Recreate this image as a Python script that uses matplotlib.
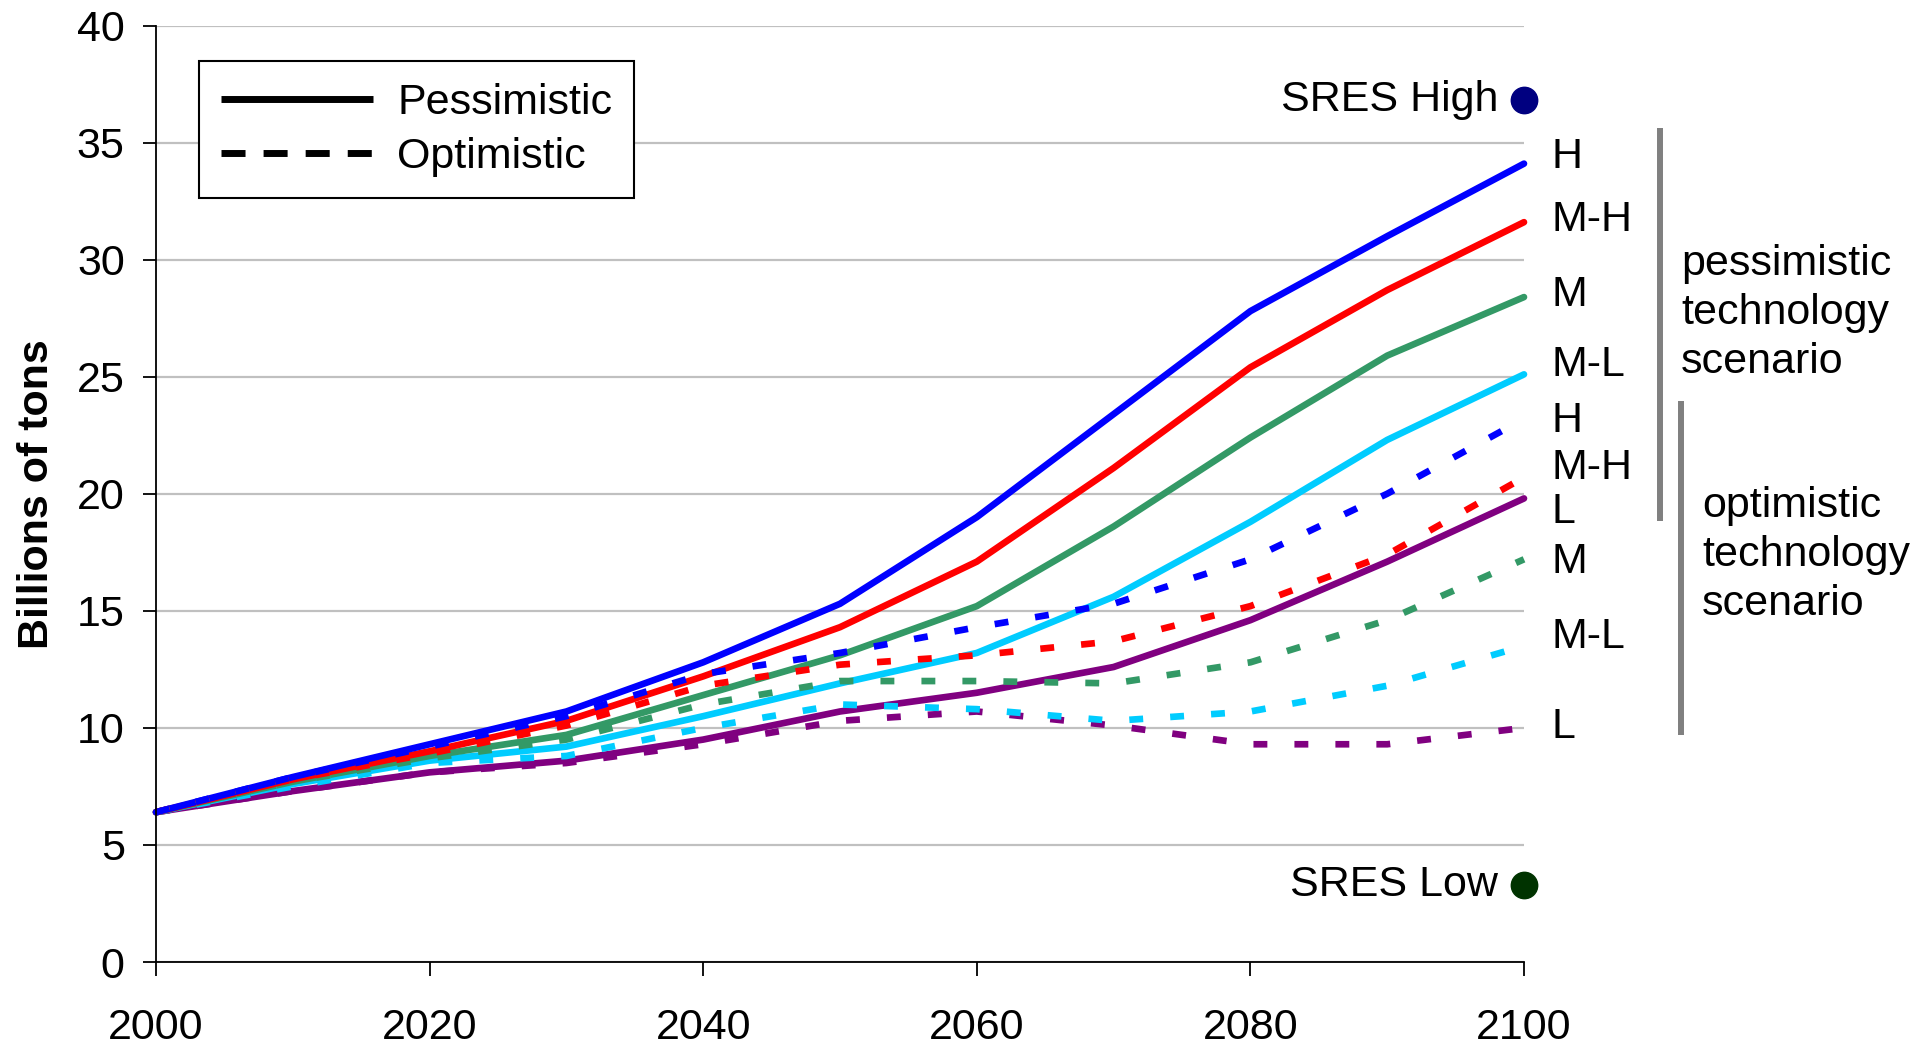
import matplotlib
matplotlib.use("Agg")
import matplotlib.pyplot as plt
from matplotlib.lines import Line2D
import matplotlib.transforms as mtransforms

plt.rcParams['font.family'] = ['Liberation Sans', 'DejaVu Sans']
plt.rcParams['lines.scale_dashes'] = False

years = [2000, 2010, 2020, 2030, 2040, 2050, 2060, 2070, 2080, 2090, 2100]

scenario_labels = ["H", "M-H", "M", "M-L", "L"]
colors = ["#0000FF", "#FF0000", "#339966", "#00CCFF", "#800080"]

pess_H  = [6.4, 7.9, 9.3, 10.7, 12.8, 15.3, 19.0, 23.4, 27.8, 31.0, 34.1]
pess_MH = [6.4, 7.8, 9.0, 10.3, 12.2, 14.3, 17.1, 21.1, 25.4, 28.7, 31.6]
pess_M  = [6.4, 7.7, 8.8, 9.7, 11.4, 13.1, 15.2, 18.6, 22.4, 25.9, 28.4]
pess_ML = [6.4, 7.6, 8.6, 9.2, 10.5, 11.9, 13.2, 15.6, 18.8, 22.3, 25.1]
pess_L  = [6.4, 7.3, 8.1, 8.6, 9.5, 10.7, 11.5, 12.6, 14.6, 17.1, 19.8]

opt_H  = [6.4, 7.9, 9.2, 10.5, 12.3, 13.2, 14.3, 15.3, 17.2, 20.0, 23.2]
opt_MH = [6.4, 7.8, 8.9, 10.1, 11.8, 12.7, 13.1, 13.7, 15.2, 17.4, 20.7]
opt_M  = [6.4, 7.7, 8.7, 9.5, 11.0, 12.0, 12.0, 11.9, 12.8, 14.6, 17.2]
opt_ML = [6.4, 7.5, 8.5, 8.8, 10.0, 11.0, 10.8, 10.3, 10.7, 11.8, 13.5]
opt_L  = [6.4, 7.3, 8.1, 8.5, 9.3, 10.3, 10.7, 10.1, 9.3, 9.3, 10.0]

pessimistic = [pess_H, pess_MH, pess_M, pess_ML, pess_L]
optimistic = [opt_H, opt_MH, opt_M, opt_ML, opt_L]

sres_year = 2100
sres_high = 36.8
sres_low = 3.3

pess_label_y = [34.4, 31.7, 28.5, 25.5]
pess_label_txt = ["H", "M-H", "M", "M-L"]
opt_label_y = [23.1, 21.1, 19.2, 17.1, 13.9, 10.05]
opt_label_txt = ["H", "M-H", "L", "M", "M-L", "L"]

y_ticks = [0, 5, 10, 15, 20, 25, 30, 35, 40]
x_ticks = [2000, 2020, 2040, 2060, 2080, 2100]

FS = 31
LW = 4.8

fig = plt.figure(figsize=(19.12, 10.44), dpi=100)
ax = fig.add_axes([156/1912, 1 - 962/1044, (1524-156)/1912, (962-25.5)/1044])

for vals, c in reversed(list(zip(pessimistic, colors))):
    ax.plot(years, vals, color=c, lw=LW, solid_capstyle='round',
            solid_joinstyle='round', zorder=3, clip_on=False)
for vals, c in reversed(list(zip(optimistic, colors))):
    ax.plot(years, vals, color=c, lw=LW, dashes=(10, 19.5), dash_capstyle='butt',
            zorder=4, clip_on=False)

ax.plot([sres_year], [sres_high], 'o', color='#000080', ms=19, zorder=5, clip_on=False)
ax.plot([sres_year], [sres_low], 'o', color='#003300', ms=19, zorder=5, clip_on=False)
ax.text(2098.1, sres_high, "SRES High", ha='right', va='center', fontsize=FS)
ax.text(2098.1, sres_low, "SRES Low", ha='right', va='center', fontsize=FS)

ax.set_xlim(2000, 2100)
ax.set_ylim(0, 40)
ax.set_xticks(x_ticks)
ax.set_yticks(y_ticks)
ax.tick_params(axis='both', labelsize=FS, direction='out', width=1.3, color='black')
ax.tick_params(axis='x', length=10, pad=23)
ax.tick_params(axis='y', length=9.5, pad=13)
ax.grid(axis='y', color='#c0c0c0', lw=1.6, zorder=0)
ax.set_axisbelow(True)
for s in ['top', 'right']:
    ax.spines[s].set_visible(False)
for s in ['left', 'bottom']:
    ax.spines[s].set_linewidth(1.3)
    ax.spines[s].set_zorder(6)

ax.set_ylabel("Billions of tons", fontsize=FS, fontweight='bold', labelpad=14)

trans = mtransforms.blended_transform_factory(ax.transAxes, ax.transData)
lx = (1552 - 156) / 1368
for y, t in zip(pess_label_y, pess_label_txt):
    ax.text(lx, y, t, transform=trans, fontsize=FS, ha='left', va='center', clip_on=False)
for y, t in zip(opt_label_y, opt_label_txt):
    ax.text(lx, y, t, transform=trans, fontsize=FS, ha='left', va='center', clip_on=False)

fig.add_artist(Line2D([1660/1912, 1660/1912], [1 - 128/1044, 1 - 521/1044],
                      color='#808080', lw=4.3, solid_capstyle='butt'))
fig.add_artist(Line2D([1681/1912, 1681/1912], [1 - 401/1044, 1 - 735/1044],
                      color='#808080', lw=4.3, solid_capstyle='butt'))
fig.text(1681/1912, 1 - 313/1044, "pessimistic\ntechnology\nscenario", fontsize=FS,
         ha='left', va='center', linespacing=1.3)
fig.text(1702/1912, 1 - 555/1044, "optimistic\ntechnology\nscenario", fontsize=FS,
         ha='left', va='center', linespacing=1.3)

handles = [Line2D([], [], color='black', lw=5, solid_capstyle='butt'),
           Line2D([], [], color='black', lw=5, dashes=(17.3, 13), dash_capstyle='butt')]
leg = ax.legend(handles, ["Pessimistic", "Optimistic"], loc='upper left',
                bbox_to_anchor=((199-156)/1368, (962-61)/937), fontsize=FS,
                frameon=True, fancybox=False, edgecolor='black', framealpha=1,
                handlelength=3.55, handletextpad=0.55, borderpad=0.5,
                labelspacing=0.32, borderaxespad=0)
leg.get_frame().set_linewidth(1.5)

fig.savefig("out.png", dpi=100)
